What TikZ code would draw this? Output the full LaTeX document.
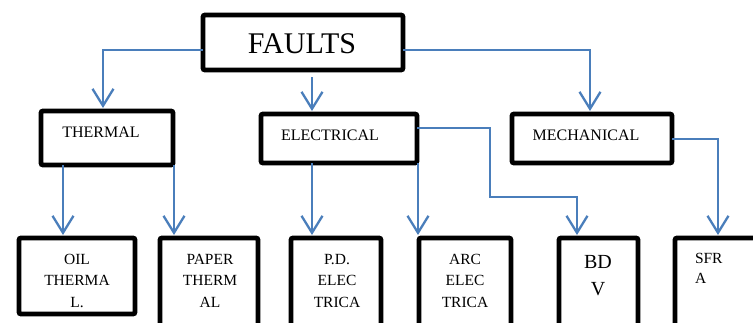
\documentclass[tikz,border=0pt]{standalone}
\usepackage{fontspec}
\setmainfont{Liberation Serif}
\usetikzlibrary{arrows.meta}
\definecolor{linkblue}{HTML}{4A7EBB}
\begin{document}
\begin{tikzpicture}[x=1pt,y=-1pt,
  box/.style={draw=black,line width=4.8pt,rounded corners=2pt,inner sep=0pt,outer sep=0pt},
  lbl/.style={inner sep=0pt,outer sep=0pt,text=black},
  midfont/.style={font=\fontsize{16}{19}\selectfont},
  smallfont/.style={font=\fontsize{15.5}{21.5}\selectfont},
  link/.style={draw=linkblue,line width=2pt,shorten >=3pt,-{Straight Barb[length=17pt,width=21pt,line width=2.3pt]}}]
\useasboundingbox (0,0) rectangle (753,322);
\clip (0,0) rectangle (753,322);
\fill[white] (0,0) rectangle (753,322);
% texts
\node[lbl,anchor=base,font=\fontsize{30}{34}\selectfont] (tfaults) at (302,53) {FAULTS};
\node[lbl,anchor=base,midfont] (tthermal) at (101,137) {THERMAL};
\node[lbl,anchor=base,midfont] (telec) at (330,140) {ELECTRICAL};
\node[lbl,anchor=base,midfont] (tmech) at (586,140) {MECHANICAL};
\node[lbl,anchor=north,smallfont,align=center] (toil) at (77,254) {OIL\\THERMA\\L.};
\node[lbl,anchor=north,smallfont,align=center] (tpaper) at (210,254) {PAPER\\THERM\\AL};
\node[lbl,anchor=north,smallfont,align=center] (tpd) at (337,254) {P.D.\\ELEC\\TRICA};
\node[lbl,anchor=north,smallfont,align=center] (tarc) at (465,254) {ARC\\ELEC\\TRICA};
\node[lbl,anchor=north,font=\fontsize{20}{27}\selectfont,align=center] (tbdv) at (598,255) {BD\\V};
\node[lbl,anchor=north west,font=\fontsize{15.5}{20}\selectfont,align=left] (tsfra) at (695,253) {SFR\\A};
% boxes
\node[box,minimum width=200pt,minimum height=55pt] (faults) at (303,42.5) {};
\node[box,minimum width=132pt,minimum height=54pt] (thermal) at (107,138) {};
\node[box,minimum width=156pt,minimum height=49pt] (elec) at (339,138.5) {};
\node[box,minimum width=160pt,minimum height=49pt] (mech) at (592,138.5) {};
\node[box,minimum width=116pt,minimum height=76pt] (oil) at (77,276) {};
\node[box,minimum width=98pt,minimum height=92pt] (paper) at (209,284) {};
\node[box,minimum width=90pt,minimum height=92pt] (pd) at (336,284) {};
\node[box,minimum width=92pt,minimum height=92pt] (arc) at (465,284) {};
\node[box,minimum width=79pt,minimum height=92pt] (bdv) at (598.5,284) {};
\node[box,minimum width=85pt,minimum height=92pt] (sfra) at (717.5,284) {};
% connectors
\draw[link] ([yshift=-7.5pt]faults.west) -| ([xshift=-4pt]thermal.north);
\draw[link] ([xshift=9pt,yshift=-7pt]faults.south) -- ([xshift=-27pt]elec.north);
\draw[link] ([yshift=-7.5pt]faults.east) -| ([xshift=-2pt]mech.north);
\draw[link] ([xshift=-44pt]thermal.south) -- ([xshift=-14pt]oil.north);
\draw[link] ([xshift=67pt]thermal.south) -- ([xshift=-35pt]paper.north);
\draw[link] ([xshift=-27pt]elec.south) -- ([xshift=-24pt]pd.north);
\draw[link] ([xshift=79pt]elec.south) -- ([xshift=-47pt]arc.north);
\draw[link] ([yshift=10.5pt]elec.east) -- ++(73,0) -- ++(0,69) -| ([xshift=-21.5pt]bdv.north);
\draw[link] ([yshift=-0.5pt]mech.east) -| ([xshift=0.5pt]sfra.north);
\end{tikzpicture}
\end{document}
